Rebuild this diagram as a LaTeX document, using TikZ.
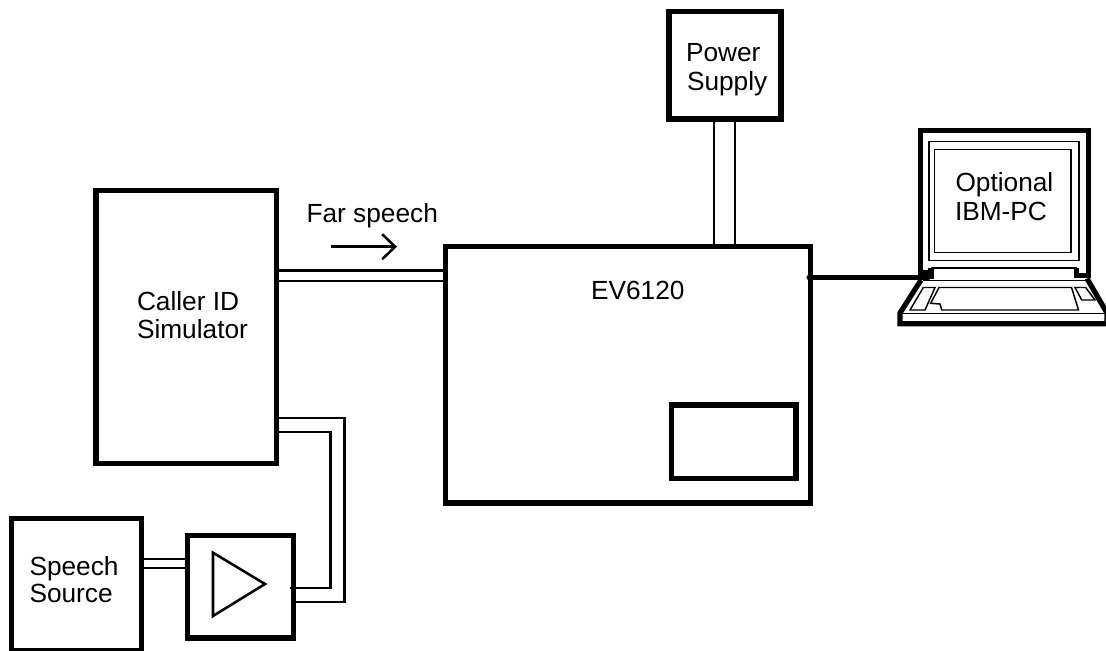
\documentclass[tikz,border=0pt]{standalone}
\usepackage{fontspec}
\setmainfont{Liberation Sans}
\usetikzlibrary{calc,arrows.meta}
\tikzset{
  x=0.75pt,y=-0.75pt,
  block/.style 2 args={draw=black,line width=4.05pt,fill=none,inner sep=0pt,outer sep=0pt,minimum width=#1*0.75pt,minimum height=#2*0.75pt},
  wire/.style={draw=black,line width=1.9pt,line join=miter},
  label/.style={inner sep=0pt,outer sep=0pt,anchor=base west,align=left,font=\fontsize{19.7}{21.75}\selectfont},
  thickout/.style={draw=black,line width=3.9pt,line join=miter},
  thinout/.style={draw=black,line width=1.1pt,line join=miter},
}
\begin{document}
\begin{tikzpicture}
\clip (0,0) rectangle (1106,650);
% blocks
\node[block={112}{107.5}] (power) at (725,65.25) {};
\node[block={365}{256.5}] (ev) at (628,374.75) {};
\node[block={124.5}{73.5}] (inset) at (733.75,441.75) {};
\node[block={180.5}{273}] (sim) at (186.25,327) {};
\node[block={130}{132}] (source) at (76.5,584.5) {};
\node[block={106}{102.5}] (amp) at (240.5,586.75) {};
% labels
\node[label] (lpower) at (686,61.7) {Power};
\node[label] (lsupply) at (687,90.7) {Supply};
\node[label] (lev) at (591,299) {EV6120};
\node[label] (lcaller) at (137,310.5) {Caller ID};
\node[label] (lsimulator) at (137,338.8) {Simulator};
\node[label] (lspeech) at (29.5,575) {Speech};
\node[label] (lsource) at (29.5,602) {Source};
\node[label] (lfar) at (306.5,222.7) {Far speech};
\node[label] (lopt) at (955.5,191.7) {Optional};
\node[label] (libm) at (955,220.7) {IBM-PC};
% amplifier triangle
\draw[wire,line join=miter] (213,552.7) -- (265,584) -- (213,616) -- cycle;
% far speech arrow
\coordinate (fara) at (331,246.7);
\coordinate (farb) at (397,246.7);
\draw[wire,-{Straight Barb[length=13*0.75pt,width=25*0.75pt]}] (fara) -- (farb);
% connectors
\draw[wire] ($(power.south)+(-11,0)$) -- ($(ev.north)+(86,0)$);
\draw[wire] ($(power.south)+(10,0)$) -- ($(ev.north)+(107,0)$);
\draw[wire] ($(sim.east)+(0,-56.3)$) -- ($(ev.west)+(0,-104.05)$);
\draw[wire] ($(sim.east)+(0,-46)$) -- ($(ev.west)+(0,-93.75)$);
\draw[wire] ($(source.east)+(0,-25.5)$) -- ($(amp.west)+(0,-27.75)$);
\draw[wire] ($(source.east)+(0,-16.5)$) -- ($(amp.west)+(0,-18.75)$);
\draw[wire] ($(sim.east)+(0,91)$) -| (344.3,602) -- ($(amp.east)+(0,15.25)$);
\draw[wire] ($(sim.east)+(0,105)$) -| (330.7,588) -- ($(amp.east)+(-3.5,1.25)$);
% laptop
\coordinate (pcport) at (928,277.5);
\draw[draw=black,line width=3.9pt,line cap=round] ($(ev.east)+(-1.5,-97.25)$) -- (pcport);
\draw[thickout] (931,268) -- (931,279) (933,272.5) -- (920.5,272.5) -- (920.5,130.5) -- (1088.5,130.5) -- (1088.5,275.5) -- (1076.5,275.5) (1076.5,278) -- (1076.5,268);
\draw[thinout] (929,141.7) rectangle (1079,260.7);
\draw[thinout] (934.3,149.3) rectangle (1071,252.3);
\draw[thinout] (931,268) -- (1077,268) (923,280.3) -- (1088,280.3);
\draw[thickout] (921,280) -- (900,313) -- (900,323.7) -- (1112,323.7) (1087,278.5) -- (1107,313) -- (1107,323.7);
\draw[thinout] (900,313.5) -- (1106,313.5);
\draw[thinout] (939,287.5) -- (1071.5,287.5) -- (1078.5,310) -- (941.7,310) -- (940,304) -- (930.7,303.3) -- cycle;
\draw[thinout] (923.3,287.5) -- (935,287.5) -- (925,310) -- (910,310) -- cycle;
\draw[thinout] (1075,287.5) -- (1085.7,287.5) -- (1095,300) -- (1081.7,300) -- cycle;
\end{tikzpicture}
\end{document}
